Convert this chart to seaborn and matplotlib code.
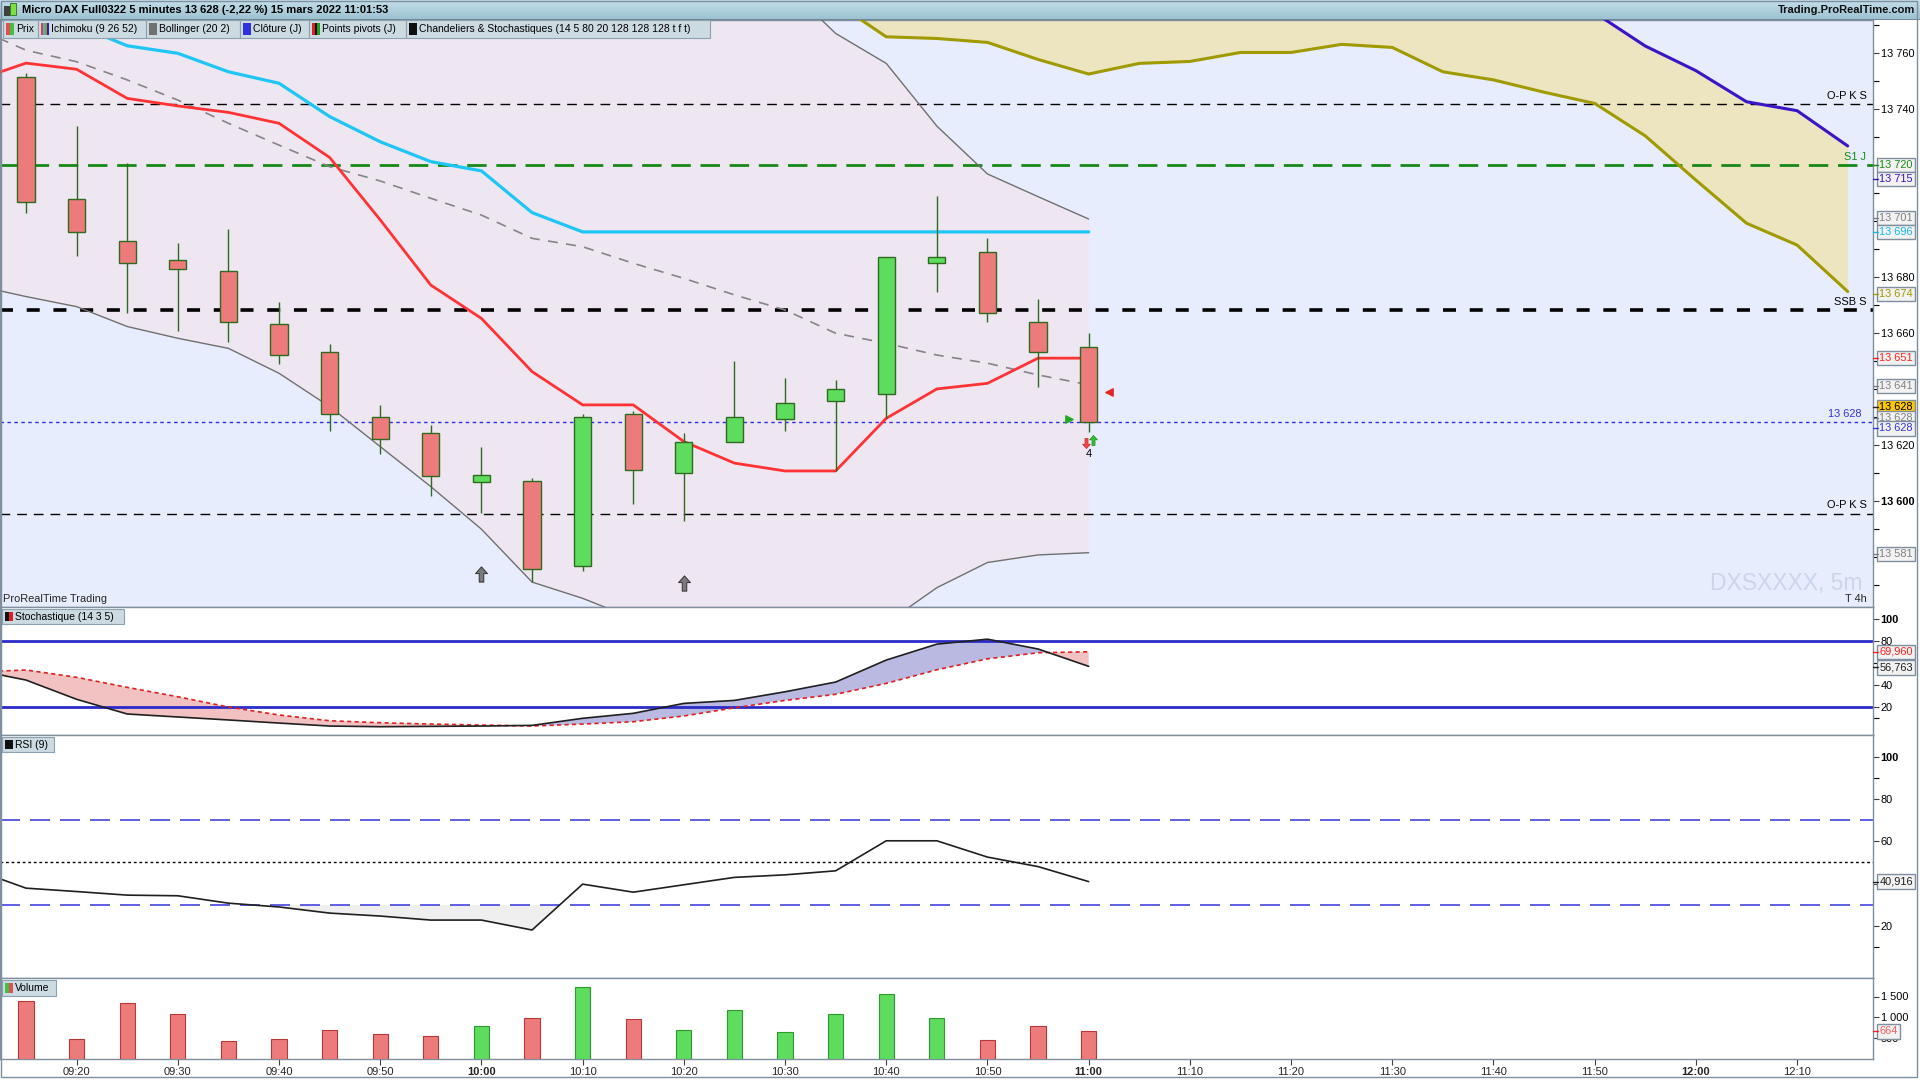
import numpy as np
import pandas as pd
import matplotlib
matplotlib.use('Agg')
import matplotlib.pyplot as plt
import matplotlib.transforms as mtransforms
from matplotlib.patches import Rectangle
from matplotlib.path import Path
import seaborn as sns

# ---- data (Micro DAX, 5 min) ----
bar_times = ['09:15', '09:20', '09:25', '09:30', '09:35', '09:40', '09:45', '09:50', '09:55',
             '10:00', '10:05', '10:10', '10:15', '10:20', '10:25', '10:30', '10:35', '10:40',
             '10:45', '10:50', '10:55', '11:00']
opens = [13751.5, 13707.7, 13692.9, 13686.1, 13682.1, 13663.2, 13653.1, 13629.9, 13624.2, 13606.9, 13607.0,
         13576.9, 13631.0, 13609.9, 13620.9, 13629.2, 13635.8, 13638.1, 13684.9, 13688.8, 13663.8, 13654.9]
highs = [13752.7, 13733.9, 13720.8, 13692.3, 13697.1, 13671.2, 13656.1, 13634.3, 13627.1, 13619.4, 13608.1,
         13631.1, 13632.1, 13624.2, 13650.0, 13643.8, 13643.2, 13687.0, 13708.9, 13693.8, 13672.0, 13660.0]
lows = [13702.8, 13687.6, 13667.0, 13660.8, 13656.9, 13648.8, 13624.8, 13616.8, 13601.9, 13595.6, 13571.0,
        13575.1, 13598.9, 13593.0, 13620.9, 13624.8, 13610.7, 13629.5, 13674.8, 13663.8, 13640.8, 13624.7]
closes = [13706.9, 13696.0, 13684.9, 13682.7, 13663.8, 13652.1, 13631.0, 13622.0, 13609.0, 13609.2, 13575.8,
          13629.9, 13611.0, 13621.0, 13629.9, 13634.9, 13639.9, 13687.0, 13687.0, 13667.0, 13653.1, 13628.1]
volumes = [1403, 488, 1343, 1077, 423, 488, 705, 609, 543, 785, 988,
           1727, 959, 705, 1167, 640, 1077, 1551, 988, 464, 785, 664]

# indicator lines start one bar earlier (09:10) so they run to the left edge
line_times = ['09:10'] + bar_times
tenkan = [13750.2, 13756.4, 13754.2, 13743.8, 13741.1, 13738.8, 13734.9, 13722.7, 13700.4, 13677.1, 13665.2, 13646.2,
          13634.3, 13634.3, 13621.2, 13613.5, 13610.7, 13610.7, 13629.5, 13640.0, 13642.0, 13651.0, 13651.0]
kijun = [13774.0, 13772.0, 13770.0, 13762.6, 13759.9, 13753.3, 13749.2, 13737.3, 13728.3, 13721.2, 13717.9, 13703.0,
         13696.1, 13696.1, 13696.1, 13696.1, 13696.1, 13696.1, 13696.1, 13696.1, 13696.1, 13696.1, 13696.1]
boll_mid = [13769.0, 13761.0, 13756.9, 13750.4, 13743.2, 13734.9, 13727.1, 13719.4, 13714.3, 13708.1, 13702.1, 13693.8,
            13690.8, 13684.9, 13679.5, 13673.6, 13668.2, 13659.9, 13656.3, 13652.1, 13649.2, 13645.0, 13641.5]
boll_up = [13861.0, 13849.0, 13844.4, 13838.5, 13828.3, 13815.3, 13808.6, 13805.1, 13809.2, 13811.1, 13814.3, 13816.6,
           13816.4, 13811.8, 13804.0, 13794.2, 13784.4, 13767.0, 13756.3, 13733.9, 13716.8, 13708.7, 13700.7]
boll_low = [13677.0, 13673.0, 13669.4, 13662.3, 13658.1, 13654.5, 13645.6, 13633.7, 13619.4, 13605.1, 13589.9, 13571.0,
            13565.2, 13558.0, 13555.0, 13553.0, 13552.0, 13552.0, 13556.3, 13569.0, 13578.0, 13580.7, 13581.5]

cloud_times = ['10:35', '10:40', '10:45', '10:50', '10:55', '11:00', '11:05', '11:10', '11:15', '11:20', '11:25',
               '11:30', '11:35', '11:40', '11:45', '11:50', '11:55', '12:00', '12:05', '12:10', '12:15']
ssa = [13812.0, 13810.0, 13806.0, 13803.0, 13800.0, 13798.0, 13795.0, 13792.0, 13790.0, 13788.0, 13786.0,
       13784.0, 13782.0, 13780.0, 13777.0, 13774.4, 13762.5, 13753.7, 13742.6, 13739.4, 13726.8]
ssb = [13778.0, 13765.8, 13765.2, 13763.8, 13757.7, 13752.5, 13756.3, 13757.0, 13760.2, 13760.2, 13763.1,
       13762.0, 13753.3, 13750.4, 13746.0, 13742.0, 13730.4, 13714.6, 13699.2, 13691.4, 13674.8]

stoch_k = [53.6, 44.4, 27.0, 13.7, 11.0, 8.3, 5.5, 2.8, 2.2, 2.5, 2.8, 3.4,
           9.8, 14.3, 23.3, 26.0, 33.8, 42.6, 62.5, 76.9, 81.4, 72.5, 56.8]
stoch_d = [51.7, 53.5, 46.9, 37.8, 29.3, 20.0, 12.8, 7.6, 5.8, 4.6, 3.7, 2.8,
           4.6, 6.7, 11.9, 19.3, 26.0, 31.5, 41.4, 53.7, 63.6, 69.1, 70.0]
rsi = [46.4, 37.8, 36.2, 34.5, 34.2, 30.7, 28.9, 26.0, 24.6, 22.7, 22.7, 18.0,
       39.7, 35.9, 39.4, 42.9, 44.1, 46.0, 60.2, 60.2, 52.5, 48.0, 40.9]

pivot_levels = [13741.7, 13720.0, 13668.2, 13595.4]
pivot_names = ['O-P K S', 'S1 J', 'SSB S', 'O-P K S']

signal_times = ['10:00', '10:20']
signal_prices = [13574.0, 13570.5]

tick_times = ['09:20', '09:30', '09:40', '09:50', '10:00', '10:10', '10:20', '10:30', '10:40', '10:50',
              '11:00', '11:10', '11:20', '11:30', '11:40', '11:50', '12:00', '12:10']

tag_values = [13720, 13715, 13701, 13696, 13674, 13651, 13641, 13581]
tag_colors = ['#1A8A1A', '#3A14C8', '#808080', '#12B8EE', '#A09A00', '#FF2020', '#808080', '#808080']


def pos(t):
    h, m = map(int, t.split(':'))
    return (h * 60 + m - (9 * 60 + 15)) / 5.0


def fmt(v):
    return f'{v:,.0f}'.replace(',', ' ')


x_bar = np.array([pos(t) for t in bar_times])
x_line = np.array([pos(t) for t in line_times])
x_cloud = np.array([pos(t) for t in cloud_times])

ARROW_UP = Path([(0, 1), (0.78, 0.12), (0.3, 0.12), (0.3, -1), (-0.3, -1), (-0.3, 0.12), (-0.78, 0.12), (0, 1)],
                closed=True)
ARROW_DN = Path([(0, -1), (0.78, -0.12), (0.3, -0.12), (0.3, 1), (-0.3, 1), (-0.3, -0.12), (-0.78, -0.12), (0, -1)],
                closed=True)

sns.set_theme(style='white')
plt.rcParams['font.family'] = ['Liberation Sans', 'DejaVu Sans']
plt.rcParams['axes.linewidth'] = 1.0

W, H = 1920, 1080
fig = plt.figure(figsize=(W / 100, H / 100), dpi=100)
fig.patch.set_facecolor('white')
FRAME = '#7F8FA0'


def frame(top, bottom, left=0, right=1873):
    return [left / W, 1 - bottom / H, (right - left) / W, (bottom - top) / H]


def px_rect(x0, y0, x1, y1, **kw):
    r = Rectangle((x0 / W, 1 - y1 / H), (x1 - x0) / W, (y1 - y0) / H, transform=fig.transFigure, **kw)
    fig.add_artist(r)
    return r


ax = fig.add_axes(frame(20, 607))
ax_sto = fig.add_axes(frame(607, 735), sharex=ax)
ax_rsi = fig.add_axes(frame(735, 978), sharex=ax)
ax_vol = fig.add_axes(frame(978, 1059), sharex=ax)

for a in (ax, ax_sto, ax_rsi, ax_vol):
    for s in a.spines.values():
        s.set_color(FRAME)
    a.yaxis.tick_right()
    a.tick_params(axis='y', which='both', direction='out', length=4, width=0.8, pad=1.5,
                  labelsize=7.9, colors='black', left=False, right=True)
    a.tick_params(axis='y', which='major', color='#404040')
    a.tick_params(axis='x', bottom=False, labelbottom=False)

ax.set_xlim(-0.514, 36.5)

# ---------------- main price panel ----------------
ax.set_facecolor('#E7EDFC')
ax.set_ylim(13562.1, 13771.8)
ax.fill_between(x_line, boll_low, boll_up, color='#EEE6F1', lw=0, zorder=1)
ax.fill_between(x_cloud, ssb, ssa, color='#EDE5BF', lw=0, zorder=1)

sns.lineplot(x=x_line, y=boll_up, ax=ax, color='#707070', lw=1, zorder=3, legend=False)
sns.lineplot(x=x_line, y=boll_low, ax=ax, color='#707070', lw=1, zorder=3, legend=False)
sns.lineplot(x=x_line, y=boll_mid, ax=ax, color='#858585', lw=1.2, ls=(0, (6, 5)), zorder=3, legend=False)
sns.lineplot(x=x_cloud, y=ssb, ax=ax, color='#A09A00', lw=2.2, zorder=3, legend=False)
sns.lineplot(x=x_cloud, y=ssa, ax=ax, color='#3A14C8', lw=2.2, zorder=3, legend=False)
sns.lineplot(x=x_line, y=kijun, ax=ax, color='#1EC6F5', lw=2.3, zorder=4, legend=False)
sns.lineplot(x=x_line, y=tenkan, ax=ax, color='#FF3333', lw=2.0, zorder=4, legend=False)

# pivot levels
ax.axhline(pivot_levels[0], color='black', lw=1, ls=(0, (7, 5)), zorder=2)
ax.axhline(pivot_levels[1], color='#168A16', lw=2, ls=(0, (7, 3.5)), zorder=2)
ax.axhline(pivot_levels[2], color='black', lw=2.6, ls=(0, (3.6, 3.8)), zorder=2)
ax.axhline(pivot_levels[3], color='black', lw=1, ls=(0, (7, 5)), zorder=2)
ax.axhline(closes[-1], color='#2E2EE6', lw=1, ls=(0, (2.5, 2.5)), zorder=2)

trans = mtransforms.blended_transform_factory(ax.transAxes, ax.transData)
name_colors = ['black', '#168A16', 'black', 'black']
for lvl, nm, c in zip(pivot_levels, pivot_names, name_colors):
    ax.text(0.9965, lvl + 1.2, nm, transform=trans, ha='right', va='bottom', fontsize=7.9, color=c, zorder=6)
ax.text(0.994, closes[-1] + 1.2, fmt(closes[-1]), transform=trans, ha='right', va='bottom',
        fontsize=7.9, color='#3434E0', zorder=6)

# candles
up = np.array(closes) >= np.array(opens)
body_lo = np.minimum(opens, closes)
body_h = np.abs(np.array(closes) - np.array(opens))
cols = np.where(up, '#5EDC5E', '#EE7B7B')
ax.vlines(x_bar, lows, highs, color='#2E6B1E', lw=1, zorder=5)
ax.bar(x_bar, body_h, bottom=body_lo, width=0.34, color=cols, edgecolor='#2E6B1E', lw=1, zorder=6)

# signal arrows under the lows
ax.scatter([pos(t) for t in signal_times], signal_prices, marker=ARROW_UP, s=120,
           color='#7A7A7A', edgecolor='#333333', lw=0.7, zorder=7)

# last-bar markers
xl = x_bar[-1]
ax.scatter([xl - 0.39], [13629.3], marker='>', s=28, color='#22AA22', zorder=7)
ax.scatter([xl + 0.41], [13638.8], marker='<', s=28, color='#E02828', zorder=7)
ax.scatter([xl - 0.06], [13620.8], marker=ARROW_DN, s=55, color='#F04848', edgecolor='#C02020', lw=0.4, zorder=7)
ax.scatter([xl + 0.08], [13621.6], marker=ARROW_UP, s=55, color='#30C030', edgecolor='#208020', lw=0.4, zorder=7)
ax.text(xl, 13616.8, '4', ha='center', va='center', fontsize=7.9, color='black', zorder=7)

ax.text(0.9945, 0.04, 'DXSXXXX, 5m', transform=ax.transAxes, ha='right', va='center',
        fontsize=16.5, color='#CCD5EA', zorder=2)
ax.text(0.9965, 0.005, 'T 4h', transform=ax.transAxes, ha='right', va='bottom', fontsize=7.9, zorder=6)
ax.text(0.0015, 0.005, 'ProRealTime Trading', transform=ax.transAxes, ha='left', va='bottom',
        fontsize=7.9, zorder=6)

major = [13600, 13620, 13660, 13680, 13740, 13760]
ax.set_yticks(major)
ax.set_yticklabels([fmt(v) for v in major])
ax.set_yticks(np.arange(13570, 13771, 10), minor=True)
for lab in ax.get_yticklabels():
    if lab.get_text() == '13 600':
        lab.set_fontweight('bold')


def tag(a, y, txt, color, fc='#F2F2F2', tc=None):
    a.annotate(txt, xy=(1, y), xycoords=('axes fraction', 'data'), xytext=(4.6, 0),
               textcoords='offset points', ha='left', va='center', fontsize=7.9,
               color=tc or color, annotation_clip=False, zorder=8,
               bbox=dict(boxstyle='square,pad=0.2', fc=fc, ec=FRAME, lw=1))
    tr = mtransforms.blended_transform_factory(a.transAxes, a.transData)
    a.plot([1, 1.0028], [y, y], transform=tr, color=color, lw=1, clip_on=False, zorder=8)


for v, c in zip(tag_values, tag_colors):
    tag(ax, v, fmt(v), c)
tag(ax, closes[-1] + 5.5, fmt(closes[-1]), '#202020', fc='#FFC800', tc='black')
tag(ax, closes[-1] + 1.5, fmt(closes[-1]), '#808080')
tag(ax, closes[-1] - 2.2, fmt(closes[-1]), '#3434E0')

# ---------------- stochastic ----------------
ax_sto.set_facecolor('white')
ax_sto.set_ylim(-5.3, 110.5)
k = np.array(stoch_k)
d = np.array(stoch_d)
ax_sto.fill_between(x_line, k, d, where=k >= d, interpolate=True, color='#B9B9E2', lw=0)
ax_sto.fill_between(x_line, k, d, where=k < d, interpolate=True, color='#F2C2C2', lw=0)
ax_sto.axhline(80, color='#2B2BC8', lw=2)
ax_sto.axhline(20, color='#2B2BC8', lw=2)
sns.lineplot(x=x_line, y=stoch_d, ax=ax_sto, color='#E02020', lw=1.2, ls=(0, (2.5, 2)), legend=False)
sns.lineplot(x=x_line, y=stoch_k, ax=ax_sto, color='#202020', lw=1.2, legend=False)
ax_sto.set_yticks([20, 40, 80, 100])
ax_sto.set_yticklabels(['20', '40', '80', '100'])
ax_sto.set_yticks([10, 60], minor=True)
tag(ax_sto, 70.0, '69,960', '#FF2020')
tag(ax_sto, 55.9, '56,763', '#202020')

# ---------------- RSI ----------------
ax_rsi.set_facecolor('white')
ax_rsi.set_ylim(-4.7, 110.25)
r = np.array(rsi)
ax_rsi.fill_between(x_line, r, 30, where=r < 30, interpolate=True, color='#EFEFEF', lw=0)
ax_rsi.axhline(70, color='#4444E0', lw=1.2, ls=(0, (12, 6)))
ax_rsi.axhline(30, color='#4444E0', lw=1.2, ls=(0, (12, 6)))
ax_rsi.axhline(50, color='black', lw=1, ls=(0, (2, 2)))
sns.lineplot(x=x_line, y=rsi, ax=ax_rsi, color='#202020', lw=1.2, legend=False)
ax_rsi.set_yticks([20, 40, 60, 80, 100])
ax_rsi.set_yticklabels(['20', '', '60', '80', '100'])
ax_rsi.set_yticks([10, 90], minor=True)
tag(ax_rsi, 40.916, '40,916', '#202020')

# ---------------- volume ----------------
ax_vol.set_facecolor('white')
ax_vol.set_ylim(0, 1944)
vcols = np.where(up, '#5EDC5E', '#EE7B7B')
vedge = np.where(up, '#2E9A2E', '#B83838')
ax_vol.bar(x_bar, volumes, width=0.3, color=vcols, edgecolor=vedge, lw=0.8, zorder=3)
ax_vol.set_yticks([500, 1000, 1500])
ax_vol.set_yticklabels(['500', '1 000', '1 500'])
tag(ax_vol, volumes[-1], str(volumes[-1]), '#FF2020', tc='#F06060')

for a in (ax_sto, ax_rsi):
    for lab in a.get_yticklabels():
        if lab.get_text() == '100':
            lab.set_fontweight('bold')

ax_vol.set_xticks([pos(t) for t in tick_times])
ax_vol.set_xticklabels(tick_times)
ax_vol.tick_params(axis='x', bottom=True, labelbottom=True, direction='out', length=4, width=0.8,
                   color='#404040', labelsize=8, pad=2)
for lab in ax_vol.get_xticklabels():
    if lab.get_text() in ('10:00', '11:00', '12:00'):
        lab.set_fontweight('bold')

# ---------------- header and legend boxes ----------------
hax = fig.add_axes([0, 1 - 20 / H, 1, 20 / H])
grad = np.linspace(0, 1, 20).reshape(-1, 1)
hax.imshow(grad, aspect='auto', cmap=matplotlib.colors.LinearSegmentedColormap.from_list(
    'hdr', ['#C2DEE9', '#9DC1D1']), extent=(0, 1, 0, 1), origin='upper')
hax.set_axis_off()
px_rect(0, 19, 1920, 20, fc='#6F8896', ec='none')
px_rect(4, 6, 10, 16, fc='#404040', ec='none')
px_rect(10, 3, 16, 15, fc='#7CE040', ec='#2E6B1E', lw=0.6)
fig.text(22 / W, 1 - 10 / H, 'Micro DAX Full0322 5 minutes 13 628 (-2,22 %) 15 mars 2022 11:01:53',
         ha='left', va='center', fontsize=8, fontweight='bold', color='black')
fig.text(1915 / W, 1 - 10 / H, 'Trading.ProRealTime.com', ha='right', va='center', fontsize=8,
         fontweight='bold', color='#101010')

legend_boxes = [(3, 38, 'Prix', ['#E05050', '#40C040']),
                (38, 146, 'Ichimoku (9 26 52)', ['#FF3030', '#20C0F0', '#A09A00', '#3A14C8']),
                (146, 240, 'Bollinger (20 2)', ['#707070']),
                (240, 309, 'Clôture (J)', ['#3030E0']),
                (309, 406, 'Points pivots (J)', ['#E02020', '#101010', '#20A020']),
                (406, 710, 'Chandeliers & Stochastiques (14 5 80 20 128 128 128 t f t)', ['#101010'])]


def legend_box(x0, x1, y0, y1, label, sq):
    px_rect(x0, y0, x1, y1, fc='#CCDAE2', ec='#8CA2B0', lw=0.8, zorder=10)
    n = len(sq)
    wsq = 8.0 / n
    for j, c in enumerate(sq):
        px_rect(x0 + 3 + j * wsq, y0 + 3, x0 + 3 + (j + 1) * wsq, y1 - 3, fc=c, ec='none', zorder=11)
    fig.text((x0 + 13) / W, 1 - (y0 + y1) / 2 / H, label, ha='left', va='center', fontsize=7.5,
             color='black', zorder=12)


for x0, x1, lab, sq in legend_boxes:
    legend_box(x0, x1, 20, 38, lab, sq)
legend_box(2, 124, 609, 624, 'Stochastique (14 3 5)', ['#101010', '#E02020'])
legend_box(2, 54, 737, 752, 'RSI (9)', ['#101010'])
legend_box(2, 56, 980, 996, 'Volume', ['#40C040', '#E05050'])

px_rect(0.5, 0.5, 1917, 1077, fc='none', ec=FRAME, lw=1, zorder=20)

fig.savefig('out.png', dpi=100, facecolor='white')
